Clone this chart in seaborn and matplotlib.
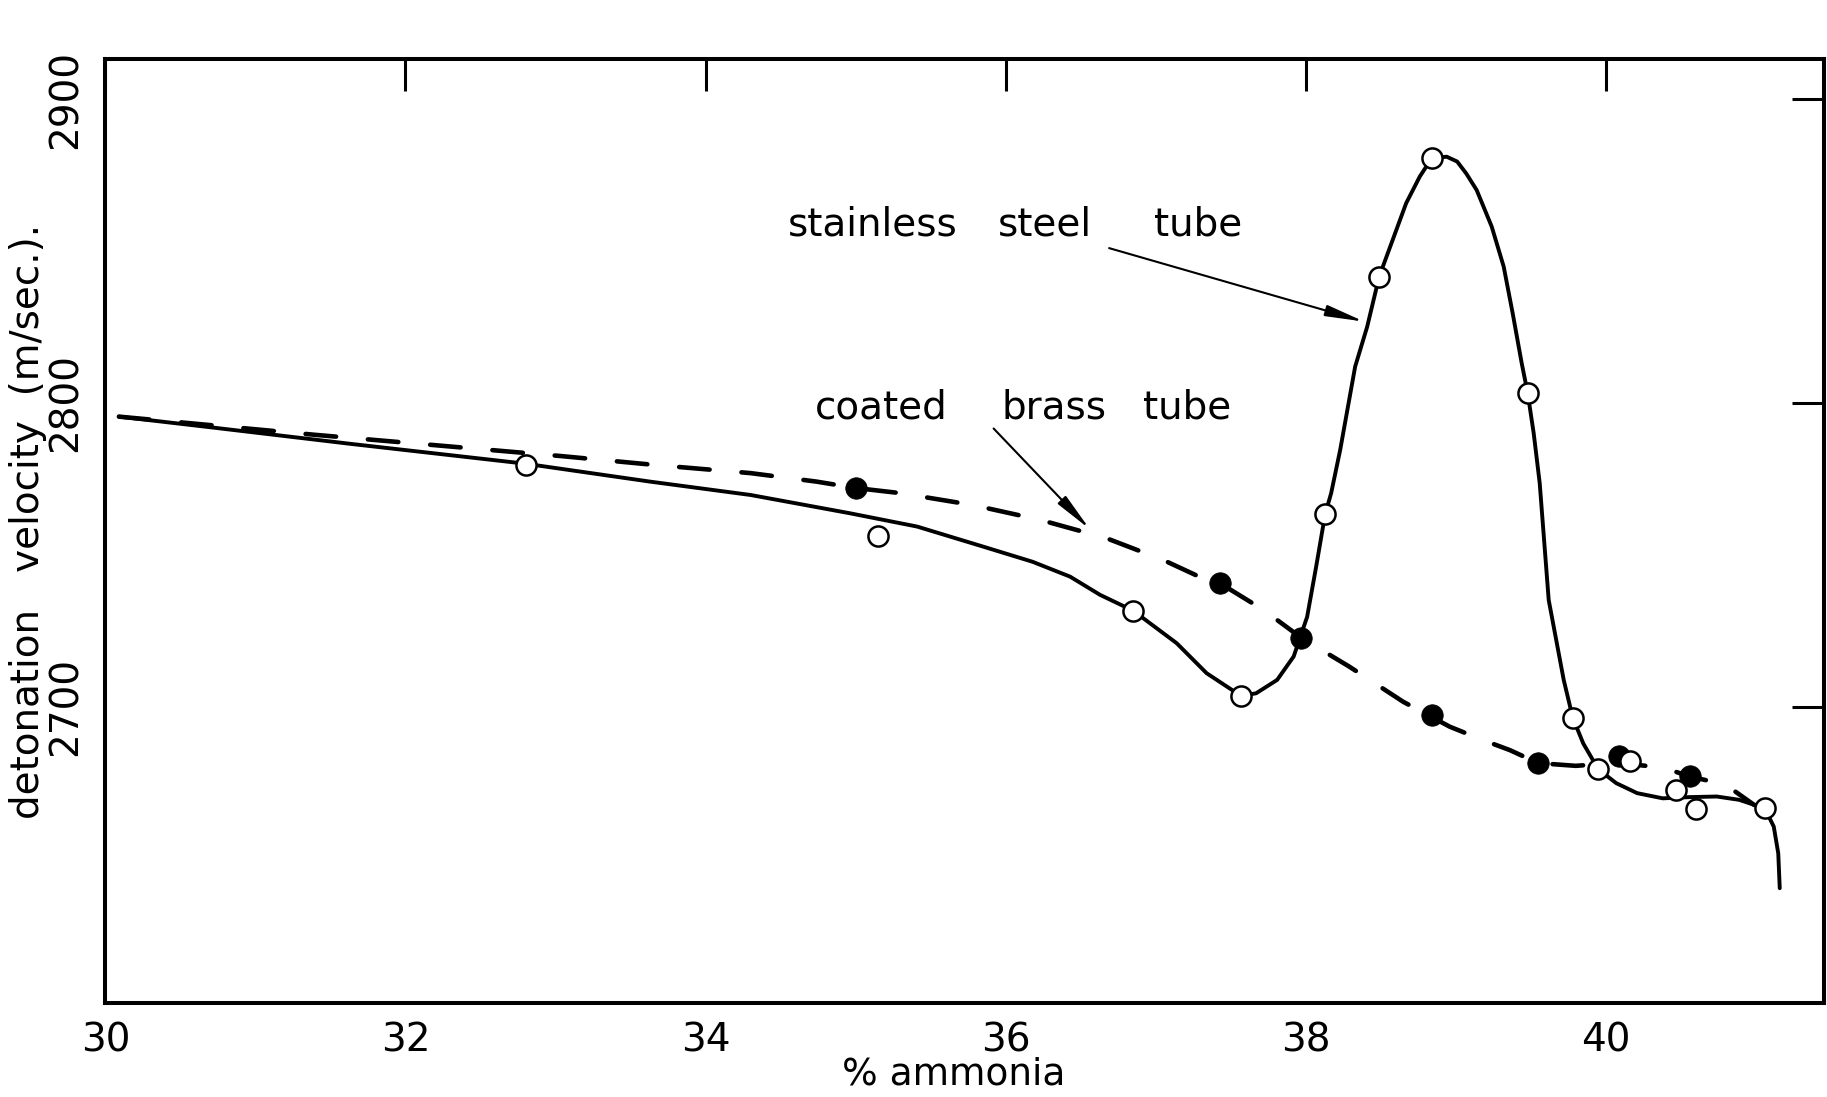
import matplotlib
matplotlib.use("Agg")
import matplotlib.pyplot as plt
import seaborn as sns
import pandas as pd

# ---------------- data ----------------
# measured points, stainless steel tube (open circles)
steel_pct = [32.80, 35.15, 36.85, 37.57, 38.13, 38.49, 38.84, 39.48, 39.78,
             39.95, 40.16, 40.47, 40.60, 41.06]
steel_vel = [2779.6, 2756.2, 2731.6, 2703.5, 2763.4, 2841.6, 2880.6, 2803.2,
             2696.4, 2679.4, 2682.1, 2672.6, 2666.3, 2666.5]

# measured points, coated brass tube (filled circles)
brass_pct = [35.00, 37.43, 37.97, 38.84, 39.55, 40.09, 40.56]
brass_vel = [2771.9, 2740.6, 2722.7, 2697.3, 2681.4, 2683.8, 2677.0]

# hand-drawn curve through the stainless steel data (traced)
steel_curve_pct = [30.09, 30.70, 31.64, 32.80, 33.63, 34.30, 34.96, 35.41, 35.85,
                   36.18, 36.43, 36.63, 36.85, 37.14, 37.34, 37.57, 37.67, 37.81,
                   37.92, 38.01, 38.07, 38.13, 38.17, 38.23, 38.29, 38.33, 38.41,
                   38.49, 38.58, 38.67, 38.76, 38.84, 38.94, 39.01, 39.07, 39.14,
                   39.24, 39.32, 39.38, 39.44, 39.48, 39.52, 39.56, 39.62, 39.72,
                   39.78, 39.85, 39.95, 40.07, 40.21, 40.38, 40.56, 40.74, 40.89,
                   41.06, 41.12, 41.15, 41.16]
steel_curve_vel = [2795.5, 2792.0, 2786.5, 2780.0, 2774.1, 2769.7, 2763.7, 2759.3, 2752.7,
                   2747.7, 2742.8, 2736.8, 2731.6, 2720.9, 2711.0, 2703.5, 2704.4, 2708.8,
                   2716.5, 2729.6, 2746.1, 2763.4, 2770.3, 2784.5, 2801.0, 2812.0, 2825.1,
                   2841.6, 2853.7, 2865.8, 2874.5, 2880.6, 2881.1, 2879.5, 2875.6, 2870.1,
                   2858.1, 2844.9, 2829.5, 2813.1, 2803.2, 2790.0, 2773.6, 2735.1, 2708.8,
                   2696.4, 2687.9, 2679.4, 2674.8, 2671.5, 2669.8, 2670.2, 2670.4, 2669.3,
                   2666.5, 2660.5, 2651.7, 2640.2]

# hand-drawn dashed curve through the coated brass data (traced)
brass_curve_pct = [30.09, 31.40, 33.04, 33.66, 34.30, 34.74, 35.00, 35.30, 35.78,
                   36.23, 36.67, 37.05, 37.29, 37.43, 37.72, 37.97, 38.29, 38.65,
                   38.96, 39.18, 39.36, 39.55, 39.80, 40.09, 40.39, 40.56, 40.71,
                   40.85, 40.99]
brass_curve_vel = [2795.5, 2789.5, 2782.5, 2779.6, 2776.9, 2774.1, 2772.0, 2770.3, 2766.4,
                   2761.5, 2755.5, 2748.3, 2742.8, 2740.6, 2731.8, 2722.7, 2713.2, 2701.6,
                   2693.4, 2689.0, 2685.7, 2681.4, 2680.5, 2681.5, 2679.8, 2677.0, 2675.3,
                   2672.5, 2667.6]

x_ticks = [30, 32, 34, 36, 38, 40]
y_ticks = [2700, 2800, 2900]
x_label = "% ammonia"
y_label = "detonation   velocity  (m/sec.)."
steel_words = ["stainless", "steel", "tube"]
brass_words = ["coated", "brass", "tube"]

# ---------------- drawing ----------------
sns.set_theme(style="white")
plt.rcParams["font.family"] = ["DejaVu Sans"]
plt.rcParams["lines.scale_dashes"] = False

fig = plt.figure(figsize=(18.27, 10.97), dpi=100)
ax = fig.add_axes([0.0577, 0.0857, 0.9405, 0.8603])

steel_curve = pd.DataFrame({"pct": steel_curve_pct, "vel": steel_curve_vel})
brass_curve = pd.DataFrame({"pct": brass_curve_pct, "vel": brass_curve_vel})

sns.lineplot(data=steel_curve, x="pct", y="vel", sort=False, estimator=None,
             color="black", lw=2.8, ax=ax, zorder=2)
sns.lineplot(data=brass_curve, x="pct", y="vel", sort=False, estimator=None,
             color="black", lw=3.3, ax=ax, zorder=2)
dash_line = ax.lines[-1]
dash_line.set_dashes([22, 23])
dash_line.set_dash_capstyle("round")

sns.scatterplot(x=brass_pct, y=brass_vel, s=240, color="black",
                edgecolor="black", linewidth=0.5, ax=ax, zorder=4)
sns.scatterplot(x=steel_pct, y=steel_vel, s=210, color="white",
                edgecolor="black", linewidth=1.8, ax=ax, zorder=5)

# annotations
fs_ann = 28
for word, xw in zip(steel_words, [34.546, 35.947, 36.988]):
    ax.text(xw, 2855.3, word, fontsize=fs_ann, ha="left", va="baseline", color="black")
for word, xw in zip(brass_words, [34.726, 35.975, 36.914]):
    ax.text(xw, 2795.0, word, fontsize=fs_ann, ha="left", va="baseline", color="black")

arrow_style = "-|>,head_length=0.9,head_width=0.13"
ax.annotate("", xy=(38.39, 2826.8), xytext=(36.69, 2851.0),
            arrowprops=dict(arrowstyle=arrow_style, lw=1.5, color="black",
                            mutation_scale=26, shrinkA=0, shrinkB=0))
ax.annotate("", xy=(36.56, 2758.5), xytext=(35.92, 2791.6),
            arrowprops=dict(arrowstyle=arrow_style, lw=1.5, color="black",
                            mutation_scale=26, shrinkA=0, shrinkB=0))

# axes
ax.set_xlim(30, 41.453)
ax.set_ylim(2602.4, 2913.2)
ax.set_xticks(x_ticks)
ax.set_xticklabels([str(t) for t in x_ticks])
ax.set_yticks(y_ticks)
ax.set_yticklabels([str(t) for t in y_ticks], rotation=90, va="center")

ax.tick_params(axis="both", which="major", direction="in", length=23, width=2.2,
               color="black", labelsize=28, labelcolor="black",
               top=True, right=True)
ax.tick_params(axis="x", pad=13)
ax.tick_params(axis="y", pad=15)

for sp in ax.spines.values():
    sp.set_visible(True)
    sp.set_linewidth(2.9)
    sp.set_color("black")

ax.set_xlabel(x_label, fontsize=27, color="black")
ax.set_ylabel(y_label, fontsize=28, color="black")
ax.xaxis.set_label_coords(0.4935, -0.057)
ax.yaxis.set_label_coords(-0.034, 0.51)
ax.grid(False)
ax.set_facecolor("white")
fig.patch.set_facecolor("white")

fig.savefig("out.png", dpi=100)
